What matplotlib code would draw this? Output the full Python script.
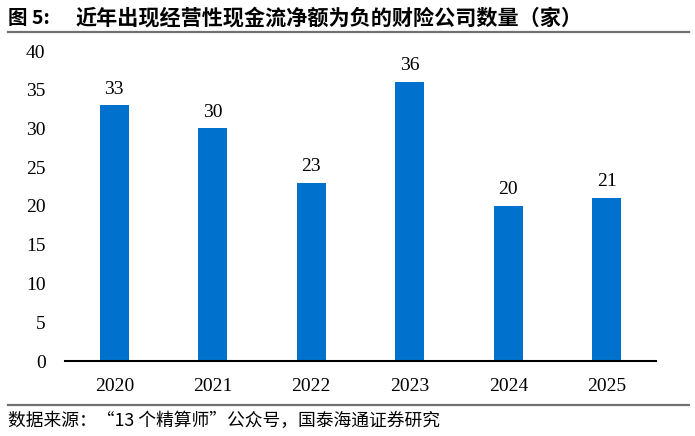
import matplotlib.pyplot as plt
from matplotlib.lines import Line2D

plt.rcParams['font.family'] = ['Liberation Serif', 'Noto Sans CJK SC', 'DejaVu Sans']

# 数据
years = ["2020", "2021", "2022", "2023", "2024", "2025"]
counts = [33, 30, 23, 36, 20, 21]

title_prefix = "图 5:"
title = "近年出现经营性现金流净额为负的财险公司数量（家）"
source = "数据来源：“13 个精算师”公众号，国泰海通证券研究"

fig = plt.figure(figsize=(6.95, 4.36), dpi=100)
ax = fig.add_axes([65 / 695, 1 - 361 / 436, 591 / 695, 310 / 436])

x = range(len(years))
ax.bar(x, counts, width=0.29, color="#0072CE")
for xi, v in zip(x, counts):
    ax.text(xi, v + 1.0, str(v), ha="center", va="bottom", fontsize=14,
            family=['Liberation Serif'])

ax.set_xlim(-0.5, len(years) - 0.5)
ax.set_ylim(0, 40)
ax.set_yticks(range(0, 41, 5))
ax.set_xticks(list(x))
ax.set_xticklabels(years)
ax.tick_params(axis="both", length=0, labelsize=14)
ax.tick_params(axis="y", pad=14)
ax.tick_params(axis="x", pad=12)
for s in ["top", "right", "left"]:
    ax.spines[s].set_visible(False)
ax.spines["bottom"].set_linewidth(1.5)
ax.spines["bottom"].set_color("black")

# 标题与来源
cjk = ['Noto Sans CJK SC', 'Liberation Serif']
fig.text(8 / 695, 1 - 18 / 436, title_prefix, ha="left", va="center", fontsize=14,
         fontweight="bold", family=cjk)
fig.text(75 / 695, 1 - 18 / 436, title, ha="left", va="center", fontsize=15.2,
         fontweight="bold", family=cjk)
fig.text(8 / 695, 1 - 421 / 436, source, ha="left", va="center", fontsize=12.8,
         family=cjk)

for yy in [1 - 32 / 436, 1 - 405 / 436]:
    fig.add_artist(Line2D([8 / 695, 689 / 695], [yy, yy], transform=fig.transFigure,
                          color="#707070", linewidth=1.6))

fig.savefig("out.png", dpi=100)
